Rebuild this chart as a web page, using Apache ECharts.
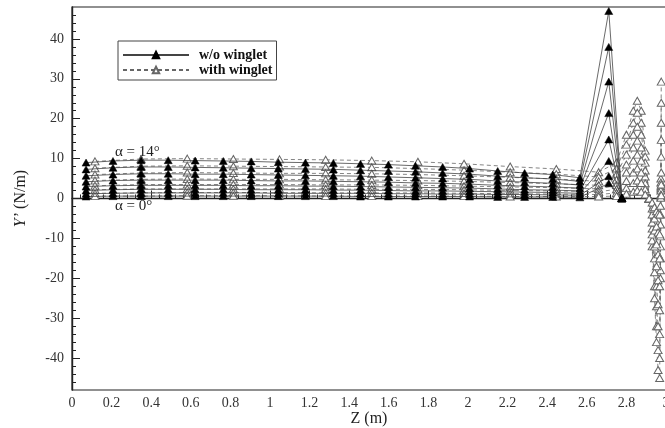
<!DOCTYPE html>
<html>
<head>
<meta charset="utf-8">
<script src="https://cdn.jsdelivr.net/npm/echarts@6/dist/echarts.min.js"></script>
<style>
  html, body { margin: 0; padding: 0; background: #fff; overflow: hidden; }
  #chart { width: 665px; height: 428px; }
</style>
</head>
<body>
<div id="chart"></div>
<script>
// Spanwise stations (m)
const zNoWinglet = [0.071, 0.207, 0.349, 0.486, 0.622, 0.764, 0.905, 1.042, 1.179, 1.320, 1.457,
  1.598, 1.735, 1.872, 2.008, 2.150, 2.286, 2.428, 2.565, 2.711, 2.777];
const zWinglet = [0.116, 0.349, 0.582, 0.815, 1.048, 1.281, 1.514, 1.747, 1.980, 2.213, 2.446, 2.660,
  2.750, 2.800, 2.835, 2.855, 2.875, 2.895, 2.915, 2.930, 2.942, 2.952, 2.960, 2.968, 2.972, 2.974, 2.976];

// Angle of attack (deg) for each curve
const alphas = [14, 12, 10, 8, 6, 4, 2, 0];

// Y' (N/m), blade without winglet
const noWinglet14 = [9.0, 9.4, 9.6, 9.6, 9.5, 9.4, 9.3, 9.1, 9.0, 8.9, 8.7, 8.5, 8.2, 7.9, 7.5, 6.9, 6.4, 6.0, 5.2, 47.0, 0.2];
const noWinglet12 = [7.3, 7.7, 7.9, 7.9, 7.8, 7.7, 7.6, 7.5, 7.4, 7.3, 7.1, 6.9, 6.7, 6.4, 6.1, 5.6, 5.2, 4.9, 4.3, 38.0, 0.2];
const noWinglet10 = [5.7, 6.0, 6.2, 6.2, 6.1, 6.1, 6.0, 5.9, 5.8, 5.7, 5.6, 5.4, 5.2, 5.0, 4.8, 4.4, 4.1, 3.8, 3.4, 29.3, 0.1];
const noWinglet8  = [4.2, 4.5, 4.6, 4.6, 4.6, 4.6, 4.5, 4.4, 4.4, 4.3, 4.2, 4.1, 3.9, 3.8, 3.6, 3.3, 3.1, 2.9, 2.6, 21.4, 0.1];
const noWinglet6  = [3.0, 3.2, 3.3, 3.3, 3.3, 3.3, 3.2, 3.2, 3.1, 3.1, 3.0, 2.9, 2.8, 2.7, 2.6, 2.4, 2.2, 2.1, 1.9, 14.8, 0.1];
const noWinglet4  = [2.0, 2.2, 2.3, 2.3, 2.3, 2.3, 2.2, 2.2, 2.2, 2.1, 2.1, 2.0, 1.9, 1.9, 1.8, 1.7, 1.6, 1.5, 1.3, 9.4, 0.0];
const noWinglet2  = [1.2, 1.3, 1.4, 1.4, 1.4, 1.4, 1.4, 1.3, 1.3, 1.3, 1.3, 1.2, 1.2, 1.1, 1.1, 1.0, 1.0, 0.9, 0.8, 5.6, 0.0];
const noWinglet0  = [0.5, 0.6, 0.6, 0.6, 0.6, 0.6, 0.6, 0.6, 0.6, 0.6, 0.5, 0.5, 0.5, 0.5, 0.5, 0.4, 0.4, 0.4, 0.3, 3.8, 0.0];

// Y' (N/m), blade with winglet
const winglet14 = [9.3, 9.9, 10.0, 9.9, 9.8, 9.7, 9.5, 9.2, 8.7, 8.0, 7.4, 6.6,
  9.0, 16.0, 22.0, 24.5, 22.0, 12.0, 0.0, -12.0, -25.0, -36.0, -43.0, -45.0, -20.0, 5.0, 29.3];
const winglet12 = [7.6, 8.1, 8.2, 8.1, 8.0, 7.9, 7.8, 7.5, 7.1, 6.6, 6.1, 5.4,
  7.5, 13.5, 19.0, 21.5, 19.0, 10.5, 0.0, -10.5, -22.0, -32.0, -38.0, -40.0, -18.0, 4.0, 24.0];
const winglet10 = [6.0, 6.4, 6.5, 6.4, 6.3, 6.3, 6.2, 6.0, 5.7, 5.3, 4.9, 4.3,
  6.0, 11.0, 16.0, 18.0, 16.0, 9.0, 0.0, -9.0, -18.5, -27.0, -32.0, -34.0, -15.0, 3.0, 19.0];
const winglet8 = [4.5, 4.8, 4.9, 4.8, 4.8, 4.7, 4.6, 4.5, 4.3, 4.0, 3.7, 3.3,
  4.7, 8.5, 12.8, 14.5, 12.8, 7.0, 0.0, -7.5, -15.0, -22.0, -26.5, -28.0, -12.0, 2.5, 14.7];
const winglet6 = [3.2, 3.5, 3.5, 3.5, 3.5, 3.4, 3.4, 3.3, 3.1, 2.9, 2.7, 2.4,
  3.4, 6.5, 9.5, 11.0, 9.5, 5.5, 0.0, -6.0, -12.0, -17.0, -20.5, -22.0, -9.5, 2.0, 10.5];
const winglet4 = [2.2, 2.4, 2.4, 2.4, 2.4, 2.4, 2.3, 2.3, 2.2, 2.0, 1.9, 1.7,
  2.3, 4.4, 6.5, 7.5, 6.5, 3.8, 0.0, -4.0, -8.0, -11.5, -14.0, -15.0, -6.5, 1.0, 6.5];
const winglet2 = [1.3, 1.4, 1.5, 1.5, 1.5, 1.4, 1.4, 1.4, 1.3, 1.2, 1.1, 1.0,
  1.4, 2.6, 3.9, 4.5, 3.9, 2.3, 0.0, -2.5, -5.0, -7.0, -8.5, -9.0, -4.0, 0.5, 3.5];
const winglet0 = [0.6, 0.6, 0.7, 0.7, 0.7, 0.6, 0.6, 0.6, 0.6, 0.5, 0.5, 0.5,
  0.6, 1.2, 1.7, 2.0, 1.7, 1.0, 0.0, -1.0, -2.2, -3.2, -3.8, -4.0, -1.8, 0.2, 0.8];

// Axis ticks
const yMajorTicks = [-40, -30, -20, -10, 0, 10, 20, 30, 40];
const yMinorTicks = [-46, -44, -42, -38, -36, -34, -32, -28, -26, -24, -22, -18, -16, -14, -12,
  -8, -6, -4, -2, 2, 4, 6, 8, 12, 14, 16, 18, 22, 24, 26, 28, 32, 34, 36, 38, 42, 44, 46];

const noWingletRows = [noWinglet14, noWinglet12, noWinglet10, noWinglet8, noWinglet6, noWinglet4, noWinglet2, noWinglet0];
const wingletRows = [winglet14, winglet12, winglet10, winglet8, winglet6, winglet4, winglet2, winglet0];

const NAME_NO = 'w/o winglet';
const NAME_WITH = 'with winglet';
const serif = '"Liberation Serif", "DejaVu Serif", serif';

function pairs(zs, ys) { return zs.map((z, i) => [z, ys[i]]); }

const series = [];
alphas.forEach((a, k) => {
  series.push({
    name: NAME_WITH, type: 'line', xAxisIndex: 0, yAxisIndex: 0,
    data: pairs(zWinglet, wingletRows[k]),
    symbol: 'triangle', symbolSize: [8, 7], showAllSymbol: true,
    lineStyle: { color: '#666', width: 0.8, type: [4, 3] },
    itemStyle: { color: '#fff', borderColor: '#666', borderWidth: 1 },
    z: 2, animation: false, silent: true
  });
});
alphas.forEach((a, k) => {
  series.push({
    name: NAME_NO, type: 'line', xAxisIndex: 0, yAxisIndex: 0,
    data: pairs(zNoWinglet, noWingletRows[k]),
    symbol: 'triangle', symbolSize: [8, 7], showAllSymbol: true,
    lineStyle: { color: '#444', width: 0.8, type: 'solid' },
    itemStyle: { color: '#000', borderColor: '#000', borderWidth: 0.5 },
    z: 3, animation: false, silent: true
  });
});

const chart = echarts.init(document.getElementById('chart'), null, { renderer: 'canvas' });
chart.setOption({
  backgroundColor: '#fff',
  animation: false,
  grid: {
    left: 72, top: 7, width: 594, height: 383,
    outerBoundsMode: 'none', containLabel: false,
    show: true, borderColor: '#222', borderWidth: 1.2, backgroundColor: 'transparent'
  },
  legend: {
    data: [NAME_NO, NAME_WITH],
    orient: 'vertical',
    left: 118, top: 41,
    itemWidth: 66, itemHeight: 8, itemGap: 1,
    padding: [7, 4, 3, 4],
    borderColor: '#444', borderWidth: 1,
    textStyle: { fontFamily: serif, fontWeight: 'bold', fontSize: 14, color: '#111', padding: [0, 0, 0, 5] }
  },
  xAxis: {
    type: 'value', min: 0, max: 3, interval: 0.2,
    name: 'Z (m)', nameLocation: 'middle', nameGap: 21, nameMoveOverlap: false,
    nameTextStyle: { fontFamily: serif, fontSize: 16, color: '#222' },
    axisLine: { show: true, lineStyle: { color: '#222', width: 1.4 } },
    axisTick: { show: true, inside: true, length: 8, lineStyle: { color: '#222', width: 1 } },
    minorTick: { show: true, splitNumber: 5, length: 4, lineStyle: { color: '#222', width: 1 } },
    axisLabel: { fontFamily: serif, fontSize: 14, color: '#333', margin: 6 },
    splitLine: { show: false }
  },
  yAxis: [{
    type: 'value', min: -48, max: 48,
    name: '{i|Y\u2019} (N/m)', nameLocation: 'middle', nameGap: 43, nameRotate: 90, nameMoveOverlap: false,
    nameTextStyle: {
      fontFamily: serif, fontSize: 16, color: '#222',
      rich: { i: { fontFamily: serif, fontStyle: 'italic', fontSize: 16, color: '#222' } }
    },
    axisLine: { show: true, lineStyle: { color: '#222', width: 1.4 } },
    axisTick: { show: true, inside: true, length: 8, customValues: yMajorTicks, lineStyle: { color: '#222', width: 1 } },
    axisLabel: { customValues: yMajorTicks, fontFamily: serif, fontSize: 14, color: '#333', margin: 8 },
    splitLine: { show: false }
  }, {
    type: 'value', min: -48, max: 48, position: 'left', offset: 0,
    axisLine: { show: false },
    axisTick: { show: true, inside: true, length: 4, customValues: yMinorTicks, lineStyle: { color: '#222', width: 1 } },
    axisLabel: { show: false },
    splitLine: { show: false }
  }],
  graphic: [
    { type: 'text', left: 115, top: 145, style: { text: '\u03b1 = 14\u00b0', fontFamily: serif, fontSize: 15, fill: '#222' } },
    { type: 'text', left: 115, top: 199, style: { text: '\u03b1 = 0\u00b0', fontFamily: serif, fontSize: 15, fill: '#222' } }
  ],
  series: series
});
</script>
</body>
</html>
